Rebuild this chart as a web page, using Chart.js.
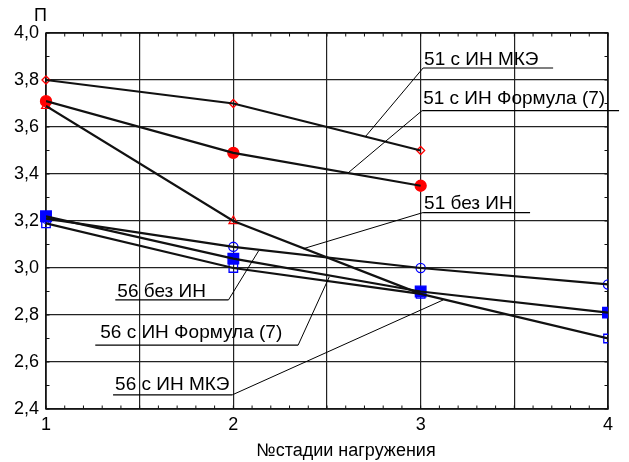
<!DOCTYPE html>
<html>
<head>
<meta charset="utf-8">
<title>П по стадиям нагружения</title>
<script src="https://cdn.jsdelivr.net/npm/chart.js@4.4.1/dist/chart.umd.min.js"></script>
<style>
  html, body { margin: 0; padding: 0; background: #ffffff; }
  #c { display: block; }
</style>
</head>
<body>
<canvas id="c" width="629" height="462"></canvas>
<script>
// Loading stages
const stages51 = [1, 2, 3];
const stages56 = [1, 2, 3, 4];

// Beam 51
const p51Fem     = [3.80, 3.70, 3.50];
const p51Formula = [3.71, 3.49, 3.35];
const p51NoIN    = [3.69, 3.20, 2.89];

// Beam 56
const p56NoIN    = [3.21, 3.09, 3.00, 2.93];
const p56Formula = [3.22, 3.04, 2.90, 2.81];
const p56Fem     = [3.19, 3.00, 2.89, 2.70];

// Axis ticks
const xTickValues = [1, 2, 3, 4];
const xTickLabels = ['1', '2', '3', '4'];
const yTickValues = [2.4, 2.6, 2.8, 3.0, 3.2, 3.4, 3.6, 3.8, 4.0];
const yTickLabels = ['2,4', '2,6', '2,8', '3,0', '3,2', '3,4', '3,6', '3,8', '4,0'];

const xTitle = '№стадии нагружения';
const yTitle = 'П';

// Series names used by the callouts
const names = {
  s51Fem: '51 с ИН МКЭ',
  s51Formula: '51 с ИН Формула (7)',
  s51NoIN: '51 без ИН',
  s56NoIN: '56 без ИН',
  s56Formula: '56 с ИН Формула (7)',
  s56Fem: '56 с ИН МКЭ'
};

const FONT = '"Liberation Sans", Arial, "DejaVu Sans", sans-serif';
const RED = '#ff0000';
const BLUE = '#0000ff';
const INK = '#111111';

const pts = (xs, ys) => xs.map((x, i) => ({ x: x, y: ys[i] }));

// Callout layout: underline from x0 to x1 at level y, leader to (tx, ty) in axis units
const callouts = [
  { text: names.s51Fem,     x0: 3.013, x1: 3.707, y: 3.851, lead: 'left',  tx: 2.704, ty: 3.558, dx: 1, gap: 3 },
  { text: names.s51Formula, x0: 3.008, x1: 4.059, y: 3.670, lead: 'left',  tx: 2.613, ty: 3.405, dx: 1, gap: 7 },
  { text: names.s51NoIN,    x0: 3.013, x1: 3.584, y: 3.236, lead: 'left',  tx: 2.373, ty: 3.082, dx: 1, gap: 4 },
  { text: names.s56NoIN,    x0: 1.370, x1: 1.974, y: 2.864, lead: 'right', tx: 2.135, ty: 3.073, dx: 2, gap: 3 },
  { text: names.s56Formula, x0: 1.263, x1: 2.346, y: 2.672, lead: 'right', tx: 2.512, ty: 2.962, dx: 5, gap: 7 },
  { text: names.s56Fem,     x0: 1.358, x1: 1.994, y: 2.460, lead: 'right', tx: 3.120, ty: 2.864, dx: 2, gap: 5 }
];

const markerClip = { left: false, top: false, right: 0, bottom: false };

function markers(xs, ys, style, radius, fill, color, order) {
  return {
    data: pts(xs, ys),
    showLine: false,
    pointStyle: style,
    pointRadius: radius,
    pointBorderWidth: 1.3,
    pointBackgroundColor: fill ? color : 'rgba(255,255,255,0)',
    pointBorderColor: color,
    clip: markerClip,
    order: order
  };
}

function curve(xs, ys) {
  return {
    data: pts(xs, ys),
    showLine: true,
    borderColor: INK,
    borderWidth: 2.2,
    pointRadius: 0,
    tension: 0,
    order: 0
  };
}

const frame = {
  id: 'frame',
  beforeDatasetsDraw(chart) {
    const { ctx, chartArea: a, scales: { x, y } } = chart;
    ctx.save();
    ctx.strokeStyle = INK;
    ctx.lineWidth = 1;
    // minor ticks, pointing inward
    for (let i = 0; i <= 30; i++) {
      const px = x.getPixelForValue(1 + i * 0.1);
      ctx.beginPath();
      ctx.moveTo(px, a.bottom); ctx.lineTo(px, a.bottom - 3.5);
      ctx.moveTo(px, a.top); ctx.lineTo(px, a.top + 3.5);
      ctx.stroke();
    }
    for (let i = 0; i <= 16; i++) {
      const py = y.getPixelForValue(2.4 + i * 0.1);
      ctx.beginPath();
      ctx.moveTo(a.left, py); ctx.lineTo(a.left + 3.5, py);
      ctx.moveTo(a.right, py); ctx.lineTo(a.right - 3.5, py);
      ctx.stroke();
    }
    ctx.lineWidth = 1.5;
    ctx.strokeRect(a.left, a.top, a.right - a.left, a.bottom - a.top);
    ctx.restore();
  },
  afterDraw(chart) {
    const { ctx, scales: { x, y } } = chart;
    ctx.save();
    ctx.fillStyle = '#000';
    ctx.strokeStyle = '#000';
    // axis titles
    ctx.font = '18px ' + FONT;
    ctx.textBaseline = 'alphabetic';
    ctx.textAlign = 'center';
    ctx.fillText(xTitle, 346, 456);
    ctx.textAlign = 'left';
    ctx.fillText(yTitle, 34, 21);
    // callouts
    ctx.font = '19px ' + FONT;
    callouts.forEach(c => {
      const x0 = x.getPixelForValue(c.x0);
      const x1 = x.getPixelForValue(c.x1);
      const py = y.getPixelForValue(c.y);
      const tx = x.getPixelForValue(c.tx);
      const ty = y.getPixelForValue(c.ty);
      const lx = c.lead === 'left' ? x0 : x1;
      ctx.lineWidth = 1.2;
      ctx.beginPath();
      ctx.moveTo(x0, py); ctx.lineTo(x1, py);
      ctx.stroke();
      ctx.lineWidth = 1;
      ctx.beginPath();
      ctx.moveTo(lx, py); ctx.lineTo(tx, ty);
      ctx.stroke();
      ctx.fillText(c.text, x0 + c.dx, py - c.gap);
    });
    ctx.restore();
  }
};

new Chart(document.getElementById('c'), {
  type: 'scatter',
  data: {
    datasets: [
      markers(stages56, p56Formula, 'rect', 7.5, true, BLUE, 1),
      markers(stages56, p56NoIN, 'circle', 4.6, false, BLUE, 2),
      markers(stages56, p56Fem, 'rect', 6, false, BLUE, 2),
      markers(stages51, p51Fem, 'rectRot', 4, false, RED, 2),
      markers(stages51, p51Formula, 'circle', 5.5, true, RED, 2),
      markers(stages51, p51NoIN, 'triangle', 5, false, RED, 3),
      curve(stages51, p51Fem),
      curve(stages51, p51Formula),
      curve(stages51, p51NoIN),
      curve(stages56, p56NoIN),
      curve(stages56, p56Formula),
      curve(stages56, p56Fem)
    ]
  },
  options: {
    responsive: false,
    animation: false,
    events: [],
    layout: { padding: { top: 33, right: 21, left: 0, bottom: 0 } },
    plugins: { legend: { display: false }, tooltip: { enabled: false } },
    scales: {
      x: {
        type: 'linear',
        min: 1, max: 4,
        afterFit(s) { s.height = 53; },
        afterBuildTicks(s) {
          s.ticks = [];
          for (let i = 0; i <= 6; i++) s.ticks.push({ value: 1 + i * 0.5 });
        },
        ticks: {
          padding: 5,
          color: '#000',
          font: { family: FONT, size: 18 },
          maxRotation: 0,
          autoSkip: false,
          callback(v) {
            const k = xTickValues.findIndex(t => Math.abs(t - v) < 1e-6);
            return k >= 0 ? xTickLabels[k] : '';
          }
        },
        grid: { color: '#222', lineWidth: 1.2, drawTicks: false },
        border: { display: false }
      },
      y: {
        type: 'linear',
        min: 2.4, max: 4.0,
        afterFit(s) { s.width = 46; },
        afterBuildTicks(s) {
          s.ticks = yTickValues.map(v => ({ value: v }));
        },
        ticks: {
          padding: 7,
          color: '#000',
          font: { family: FONT, size: 18 },
          autoSkip: false,
          callback(v) {
            const k = yTickValues.findIndex(t => Math.abs(t - v) < 1e-6);
            return k >= 0 ? yTickLabels[k] : '';
          }
        },
        grid: { color: '#222', lineWidth: 1.2, drawTicks: false },
        border: { display: false }
      }
    }
  },
  plugins: [frame]
});
</script>
</body>
</html>
